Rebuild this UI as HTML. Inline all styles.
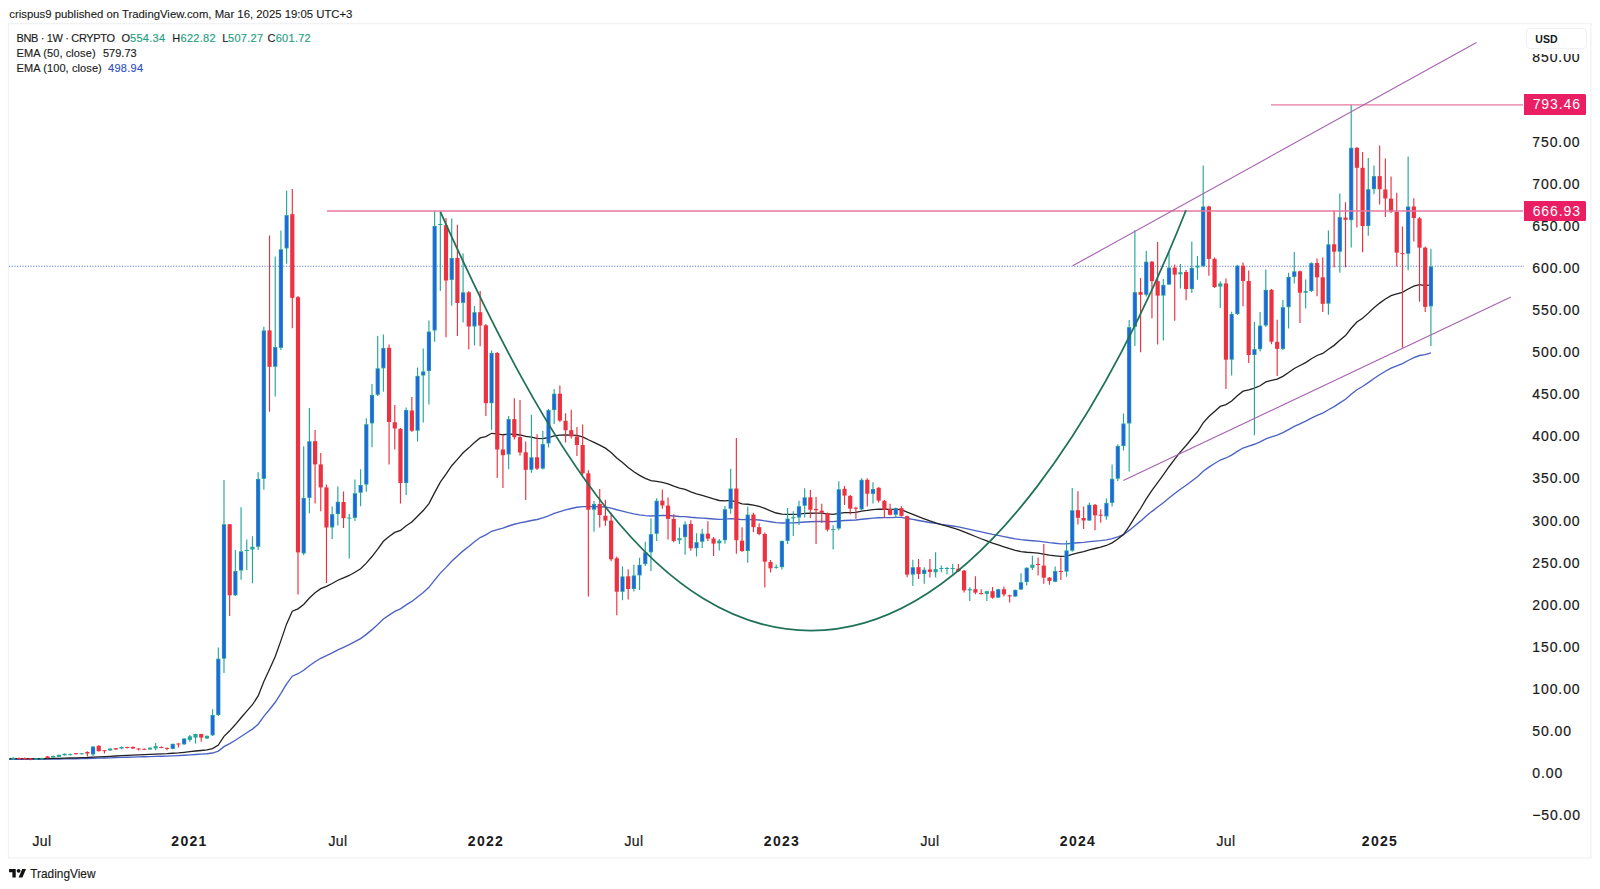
<!DOCTYPE html>
<html><head><meta charset="utf-8"><style>
html,body{margin:0;padding:0;background:#fff;width:1600px;height:889px;overflow:hidden;position:relative;font-family:"Liberation Sans",sans-serif;color:#131722}
.hdr{position:absolute;left:9.3px;top:5.6px;font-size:11.35px;line-height:16px;white-space:nowrap;color:#1a1a1a;-webkit-text-stroke:0.12px #1a1a1a}
.lg{position:absolute;font-size:11px;line-height:14px;white-space:nowrap;color:#1c1c1c;-webkit-text-stroke:0.15px #1c1c1c}
.lg.g{color:#1f9e80;-webkit-text-stroke:0.15px #1f9e80;letter-spacing:0.28px} .lg.bl{color:#3050c0;-webkit-text-stroke:0.15px #3050c0;letter-spacing:0.3px}
.pl{position:absolute;left:1532.3px;font-size:14px;line-height:16px;letter-spacing:0.9px;white-space:nowrap;color:#1a1a1a;-webkit-text-stroke:0.2px #1a1a1a}
.tag{position:absolute;left:1524px;width:62px;height:20.3px;background:#e91e63;color:#fff;font-size:14px;line-height:20.3px;letter-spacing:0.9px;text-align:right;box-sizing:border-box;padding-right:5.1px;border-radius:0 1.5px 1.5px 0}
.usd{position:absolute;left:1525.8px;top:27.5px;width:61.5px;height:21.8px;box-sizing:border-box;border:1px solid #f0f1f4;border-radius:4px;background:#fff;font-size:10.5px;font-weight:700;line-height:20px;padding-left:8.5px;color:#131722}
.tl{position:absolute;top:833.2px;width:80px;text-align:center;font-size:14px;line-height:16px;letter-spacing:0.45px;color:#1a1a1a;-webkit-text-stroke:0.2px #1a1a1a}
.tl.b{font-weight:700;font-size:14px;letter-spacing:1.3px;-webkit-text-stroke:0}
.ft{position:absolute;left:30.3px;top:866.2px;font-size:11.85px;line-height:16px;color:#1a1a1a;-webkit-text-stroke:0.15px #1a1a1a}
</style></head><body>
<div class="hdr">crispus9 published on TradingView.com, Mar 16, 2025 19:05 UTC+3</div>
<svg width="1600" height="889" viewBox="0 0 1600 889" style="position:absolute;left:0;top:0">
<defs><clipPath id="pane"><rect x="9" y="24" width="1515" height="800"/></clipPath></defs>
<rect x="8.5" y="23.6" width="1582.4" height="834.3" fill="#fff" stroke="#f1f2f4" stroke-width="1.3"/>
<g clip-path="url(#pane)">
<path d="M9 266.3H1524" stroke="#5272c8" stroke-width="1.1" stroke-dasharray="1.1 1.59" fill="none"/>
<path d="M7.65 759.27 L13.35 759.25 L19.04 759.24 L24.73 759.24 L30.43 759.24 L36.12 759.23 L41.81 759.21 L47.51 759.18 L53.20 759.12 L58.89 759.03 L64.58 758.93 L70.28 758.84 L75.97 758.74 L81.66 758.63 L87.36 758.53 L93.05 758.29 L98.74 758.15 L104.44 758.01 L110.13 757.82 L115.82 757.66 L121.51 757.44 L127.21 757.25 L132.90 757.07 L138.59 756.92 L144.29 756.78 L149.98 756.60 L155.67 756.39 L161.37 756.22 L167.06 756.08 L172.75 755.84 L178.44 755.61 L184.14 755.27 L189.83 754.90 L195.52 754.48 L201.22 754.15 L206.91 753.78 L212.60 753.02 L218.30 751.15 L223.99 746.66 L229.68 743.66 L235.37 740.24 L241.07 736.50 L246.76 732.80 L252.45 729.12 L258.15 724.17 L263.84 716.37 L269.53 709.45 L275.23 702.27 L280.92 693.30 L286.61 683.83 L292.30 676.19 L298.00 673.74 L303.69 670.26 L309.38 665.72 L315.08 661.73 L320.77 658.28 L326.46 655.69 L332.15 652.89 L337.85 649.89 L343.54 647.29 L349.23 644.72 L354.93 641.72 L360.62 638.61 L366.31 634.37 L372.01 629.63 L377.70 624.45 L383.39 618.98 L389.09 615.08 L394.78 611.38 L400.47 608.84 L406.16 604.90 L411.86 601.45 L417.55 596.99 L423.24 592.52 L428.94 587.35 L434.63 580.20 L440.32 573.14 L446.01 567.35 L451.71 561.22 L457.40 556.11 L463.09 550.89 L468.79 546.44 L474.48 541.80 L480.17 537.52 L485.87 534.86 L491.56 531.26 L497.25 529.64 L502.94 528.17 L508.64 526.01 L514.33 524.25 L520.02 522.83 L525.72 521.78 L531.41 520.50 L537.10 519.47 L542.80 517.98 L548.49 515.84 L554.18 513.42 L559.88 511.58 L565.57 509.97 L571.26 508.52 L576.95 507.26 L582.65 506.59 L588.34 506.65 L594.03 506.59 L599.73 506.76 L605.42 507.04 L611.11 508.07 L616.80 509.73 L622.50 511.05 L628.19 512.59 L633.88 513.84 L639.58 514.84 L645.27 515.59 L650.96 515.95 L656.66 515.65 L662.35 515.45 L668.04 515.52 L673.74 516.02 L679.43 516.46 L685.12 516.61 L690.81 517.24 L696.51 517.74 L702.20 518.05 L707.89 518.46 L713.59 518.96 L719.28 519.38 L724.97 519.18 L730.66 518.58 L736.36 519.00 L742.05 519.64 L747.74 519.54 L753.44 519.69 L759.13 519.97 L764.82 520.80 L770.52 521.74 L776.21 522.63 L781.90 523.00 L787.60 522.91 L793.29 522.80 L798.98 522.47 L804.67 521.97 L810.37 521.73 L816.06 521.50 L821.75 521.32 L827.45 521.49 L833.14 521.64 L838.83 521.00 L844.52 520.49 L850.22 520.26 L855.91 520.02 L861.60 519.23 L867.30 518.72 L872.99 518.13 L878.68 517.78 L884.38 517.63 L890.07 517.57 L895.76 517.38 L901.46 517.35 L907.15 518.49 L912.84 519.45 L918.53 520.53 L924.23 521.51 L929.92 522.50 L935.61 523.43 L941.31 524.31 L947.00 525.17 L952.69 526.02 L958.38 526.92 L964.08 528.18 L969.77 529.38 L975.46 530.64 L981.16 531.89 L986.85 533.06 L992.54 534.34 L998.24 535.43 L1003.93 536.60 L1009.62 537.78 L1015.31 538.81 L1021.01 539.67 L1026.70 540.23 L1032.39 540.71 L1038.09 541.19 L1043.78 541.92 L1049.47 542.69 L1055.17 543.25 L1060.86 543.81 L1066.55 543.94 L1072.24 543.27 L1077.94 542.77 L1083.63 542.33 L1089.32 541.58 L1095.02 541.06 L1100.71 540.56 L1106.40 539.81 L1112.10 538.61 L1117.79 536.77 L1123.48 534.53 L1129.17 530.42 L1134.87 525.70 L1140.56 521.13 L1146.25 515.99 L1151.95 511.34 L1157.64 507.07 L1163.33 502.67 L1169.03 498.01 L1174.72 493.59 L1180.41 489.21 L1186.11 485.24 L1191.80 480.94 L1197.49 476.68 L1203.18 471.33 L1208.88 467.12 L1214.57 463.55 L1220.26 459.99 L1225.96 458.00 L1231.65 455.15 L1237.34 451.40 L1243.03 448.02 L1248.73 446.18 L1254.42 444.26 L1260.11 441.91 L1265.81 438.90 L1271.50 436.97 L1277.19 435.23 L1282.89 432.69 L1288.58 429.61 L1294.27 426.47 L1299.96 423.83 L1305.66 421.20 L1311.35 418.07 L1317.04 415.28 L1322.74 413.07 L1328.43 409.73 L1334.12 406.60 L1339.82 402.85 L1345.51 399.22 L1351.20 394.24 L1356.89 389.76 L1362.59 386.52 L1368.28 382.61 L1373.97 378.52 L1379.67 374.77 L1385.36 371.28 L1391.05 368.12 L1396.75 365.83 L1402.44 363.62 L1408.13 360.51 L1413.82 357.69 L1419.52 355.51 L1425.21 354.55 L1430.90 352.80" stroke="#4a62c4" stroke-width="1.35" fill="none"/>
<path d="M7.65 758.58 L13.35 758.55 L19.04 758.56 L24.73 758.59 L30.43 758.62 L36.12 758.61 L41.81 758.60 L47.51 758.57 L53.20 758.47 L58.89 758.33 L64.58 758.15 L70.28 758.00 L75.97 757.85 L81.66 757.66 L87.36 757.50 L93.05 757.07 L98.74 756.84 L104.44 756.60 L110.13 756.28 L115.82 756.02 L121.51 755.67 L127.21 755.34 L132.90 755.08 L138.59 754.86 L144.29 754.65 L149.98 754.38 L155.67 754.05 L161.37 753.81 L167.06 753.62 L172.75 753.24 L178.44 752.89 L184.14 752.33 L189.83 751.70 L195.52 751.01 L201.22 750.48 L206.91 749.90 L212.60 748.54 L218.30 745.01 L223.99 736.35 L229.68 730.82 L235.37 724.55 L241.07 717.76 L246.76 711.18 L252.45 704.73 L258.15 695.88 L263.84 681.55 L269.53 669.20 L275.23 656.57 L280.92 640.60 L286.61 623.91 L292.30 611.13 L298.00 608.82 L303.69 604.47 L309.38 598.07 L315.08 592.83 L320.77 588.69 L326.46 586.29 L332.15 583.46 L337.85 580.26 L343.54 577.82 L349.23 575.46 L354.93 572.23 L360.62 568.81 L366.31 563.14 L372.01 556.55 L377.70 549.17 L383.39 541.28 L389.09 536.60 L394.78 532.36 L400.47 530.43 L406.16 525.70 L411.86 521.98 L417.55 516.25 L423.24 510.57 L428.94 503.55 L434.63 492.66 L440.32 482.13 L446.01 474.22 L451.71 465.74 L457.40 459.36 L463.09 452.81 L468.79 447.85 L474.48 442.53 L480.17 437.94 L485.87 436.58 L491.56 433.30 L497.25 433.94 L502.94 434.77 L508.64 434.16 L514.33 434.27 L520.02 434.99 L525.72 436.35 L531.41 437.17 L537.10 438.41 L542.80 438.63 L548.49 437.51 L554.18 435.79 L559.88 435.19 L565.57 435.00 L571.26 435.05 L576.95 435.44 L582.65 436.93 L588.34 439.78 L594.03 442.30 L599.73 445.16 L605.42 448.11 L611.11 452.47 L616.80 457.93 L622.50 462.58 L628.19 467.54 L633.88 471.77 L639.58 475.42 L645.27 478.43 L650.96 480.61 L656.66 481.40 L662.35 482.34 L668.04 483.78 L673.74 486.02 L679.43 488.06 L685.12 489.48 L690.81 491.79 L696.51 493.77 L702.20 495.33 L707.89 497.03 L713.59 498.86 L719.28 500.49 L724.97 500.83 L730.66 500.35 L736.36 501.91 L742.05 503.84 L747.74 504.26 L753.44 505.16 L759.13 506.29 L764.82 508.46 L770.52 510.81 L776.21 513.01 L781.90 514.10 L787.60 514.28 L793.29 514.39 L798.98 514.07 L804.67 513.42 L810.37 513.27 L816.06 513.15 L821.75 513.13 L827.45 513.78 L833.14 514.38 L838.83 513.39 L844.52 512.70 L850.22 512.54 L855.91 512.37 L861.60 511.09 L867.30 510.41 L872.99 509.57 L878.68 509.22 L884.38 509.24 L890.07 509.46 L895.76 509.41 L901.46 509.66 L907.15 512.21 L912.84 514.36 L918.53 516.70 L924.23 518.78 L929.92 520.86 L935.61 522.76 L941.31 524.53 L947.00 526.23 L952.69 527.87 L958.38 529.58 L964.08 531.96 L969.77 534.21 L975.46 536.50 L981.16 538.75 L986.85 540.80 L992.54 543.04 L998.24 544.85 L1003.93 546.79 L1009.62 548.73 L1015.31 550.35 L1021.01 551.60 L1026.70 552.23 L1032.39 552.72 L1038.09 553.20 L1043.78 554.16 L1049.47 555.21 L1055.17 555.83 L1060.86 556.45 L1066.55 556.21 L1072.24 554.41 L1077.94 552.97 L1083.63 551.70 L1089.32 549.86 L1095.02 548.50 L1100.71 547.21 L1106.40 545.47 L1112.10 542.86 L1117.79 539.06 L1123.48 534.53 L1129.17 526.39 L1134.87 517.21 L1140.56 508.48 L1146.25 498.81 L1151.95 490.27 L1157.64 482.64 L1163.33 474.88 L1169.03 466.75 L1174.72 459.22 L1180.41 451.88 L1186.11 445.50 L1191.80 438.53 L1197.49 431.76 L1203.18 422.92 L1208.88 416.49 L1214.57 411.41 L1220.26 406.39 L1225.96 404.56 L1231.65 401.01 L1237.34 395.70 L1243.03 391.21 L1248.73 389.79 L1254.42 388.19 L1260.11 385.74 L1265.81 381.97 L1271.50 380.39 L1277.19 379.16 L1282.89 376.34 L1288.58 372.44 L1294.27 368.47 L1299.96 365.50 L1305.66 362.58 L1311.35 358.68 L1317.04 355.49 L1322.74 353.46 L1328.43 349.18 L1334.12 345.36 L1339.82 340.33 L1345.51 335.60 L1351.20 328.24 L1356.89 321.95 L1362.59 318.18 L1368.28 313.13 L1373.97 307.75 L1379.67 303.10 L1385.36 299.00 L1391.05 295.57 L1396.75 293.89 L1402.44 292.33 L1408.13 288.96 L1413.82 286.18 L1419.52 284.67 L1425.21 285.54 L1430.90 284.79" stroke="#222" stroke-width="1.3" fill="none"/>
<path d="M7.65 757.50V760.00 M13.35 757.30V760.00 M36.12 758.00V760.00 M41.81 757.80V759.80 M53.20 755.50V757.80 M58.89 754.50V757.00 M64.58 753.50V755.50 M70.28 753.40V755.50 M81.66 753.00V754.50 M93.05 746.20V756.00 M110.13 748.20V750.80 M121.51 746.60V749.30 M149.98 747.50V749.80 M155.67 743.00V750.20 M172.75 743.50V749.20 M184.14 738.20V744.80 M189.83 735.00V741.70 M195.52 733.80V743.50 M206.91 735.50V739.00 M212.60 709.30V736.00 M218.30 647.60V716.00 M223.99 480.00V672.90 M235.37 550.00V596.00 M241.07 507.30V579.70 M246.76 539.40V569.90 M252.45 536.30V583.30 M258.15 472.30V550.00 M263.84 326.70V489.70 M275.23 256.50V396.50 M280.92 230.40V350.00 M286.61 190.80V263.70 M303.69 446.20V555.30 M309.38 408.10V513.20 M332.15 506.50V539.00 M337.85 486.40V525.60 M349.23 513.80V558.40 M354.93 479.60V521.00 M360.62 469.30V506.20 M366.31 418.20V491.80 M372.01 384.00V447.20 M377.70 335.90V396.00 M383.39 334.60V391.70 M406.16 407.60V495.00 M417.55 367.60V441.40 M423.24 348.50V422.50 M428.94 320.40V404.40 M434.63 210.80V341.70 M440.32 211.20V291.10 M451.71 218.40V305.70 M463.09 253.50V322.60 M474.48 306.00V345.60 M491.56 350.50V429.70 M508.64 416.10V469.30 M531.41 414.80V472.70 M542.80 430.90V469.50 M548.49 409.00V447.40 M554.18 388.90V424.00 M594.03 501.00V531.70 M622.50 566.50V600.30 M633.88 564.80V591.50 M639.58 557.70V590.10 M645.27 541.70V566.00 M650.96 518.60V570.90 M656.66 498.30V540.90 M679.43 527.40V544.00 M685.12 521.60V554.80 M696.51 533.20V556.40 M702.20 528.70V548.00 M719.28 539.00V550.50 M724.97 506.00V543.80 M730.66 468.70V513.70 M747.74 506.50V562.80 M776.21 564.50V568.80 M781.90 540.50V569.60 M787.60 508.10V544.00 M793.29 511.20V535.90 M798.98 500.80V525.10 M804.67 488.20V517.50 M833.14 525.20V549.40 M838.83 481.30V530.20 M861.60 478.30V510.00 M872.99 482.20V503.60 M895.76 507.50V517.90 M912.84 559.80V586.10 M924.23 567.20V583.70 M935.61 552.20V577.60 M941.31 565.40V572.30 M947.00 567.00V574.50 M952.69 564.00V573.70 M969.77 587.20V601.00 M986.85 590.80V601.00 M998.24 588.80V598.00 M1015.31 589.50V597.00 M1021.01 573.20V590.00 M1026.70 567.20V585.40 M1032.39 555.70V570.00 M1055.17 566.50V582.20 M1066.55 540.60V576.80 M1072.24 488.10V551.80 M1089.32 502.50V521.00 M1106.40 498.50V519.70 M1112.10 464.40V506.60 M1117.79 444.30V481.00 M1123.48 413.40V450.50 M1129.17 320.00V471.60 M1134.87 230.20V346.00 M1146.25 250.70V296.40 M1163.33 279.10V340.50 M1169.03 252.30V285.00 M1180.41 263.90V288.50 M1191.80 241.60V293.10 M1197.49 256.10V279.70 M1203.18 165.50V267.00 M1220.26 281.20V308.00 M1231.65 311.70V375.50 M1237.34 264.80V315.00 M1254.42 321.90V435.30 M1260.11 312.00V351.40 M1265.81 269.50V327.00 M1282.89 300.10V350.00 M1288.58 272.80V328.40 M1294.27 252.00V283.50 M1305.66 279.60V308.40 M1311.35 262.30V292.00 M1328.43 230.60V314.70 M1339.82 193.50V272.70 M1351.20 104.80V247.50 M1368.28 158.00V235.70 M1373.97 165.60V194.20 M1408.13 156.50V270.30 M1430.90 248.70V346.00" stroke="#26A69A" stroke-width="1.15" fill="none"/>
<path d="M19.04 757.50V760.00 M24.73 757.50V760.00 M30.43 758.00V760.30 M47.51 756.00V758.50 M75.97 753.00V754.50 M87.36 751.20V756.50 M98.74 745.20V751.50 M104.44 750.00V753.50 M115.82 748.00V750.00 M127.21 746.80V748.50 M132.90 746.20V749.00 M138.59 748.30V750.60 M144.29 748.50V750.00 M161.37 746.50V748.20 M167.06 747.50V750.20 M178.44 743.20V747.50 M201.22 733.80V741.70 M229.68 523.90V616.00 M269.53 235.40V411.80 M292.30 189.00V328.30 M298.00 296.00V594.50 M315.08 429.90V503.60 M320.77 453.00V511.30 M326.46 484.50V583.00 M343.54 491.50V528.00 M389.09 344.40V464.40 M394.78 405.10V449.40 M400.47 428.00V503.60 M411.86 397.00V432.00 M446.01 218.00V337.20 M457.40 224.70V336.10 M468.79 291.00V349.50 M480.17 291.10V346.30 M485.87 324.00V416.10 M497.25 352.00V478.00 M502.94 434.70V487.90 M514.33 398.30V439.60 M520.02 400.10V455.40 M525.72 441.50V500.00 M537.10 434.20V470.00 M559.88 385.50V422.00 M565.57 413.30V442.60 M571.26 409.80V438.60 M576.95 427.00V456.10 M582.65 424.60V475.00 M588.34 470.20V596.60 M599.73 489.10V527.60 M605.42 499.80V525.80 M611.11 512.80V561.20 M616.80 556.50V615.30 M628.19 569.20V599.60 M662.35 489.40V508.80 M668.04 497.50V539.40 M673.74 514.30V542.20 M690.81 520.20V550.70 M707.89 521.30V540.90 M713.59 537.00V556.10 M736.36 438.10V553.80 M742.05 527.20V552.00 M753.44 512.80V532.20 M759.13 523.20V535.30 M764.82 532.60V587.50 M770.52 560.00V572.40 M810.37 490.00V517.90 M816.06 497.00V544.00 M821.75 503.70V523.10 M827.45 512.50V531.40 M844.52 486.10V504.90 M850.22 495.00V514.50 M855.91 506.80V518.80 M867.30 478.30V506.40 M878.68 487.00V502.50 M884.38 500.00V517.90 M890.07 503.70V515.50 M901.46 506.20V516.50 M907.15 515.50V577.30 M918.53 559.10V579.10 M929.92 558.90V577.60 M958.38 564.00V572.00 M964.08 570.00V592.40 M975.46 576.20V594.30 M981.16 589.20V594.50 M992.54 586.90V598.70 M1003.93 586.50V596.60 M1009.62 594.80V602.50 M1038.09 557.50V575.50 M1043.78 544.00V583.80 M1049.47 577.00V584.70 M1060.86 557.50V580.00 M1077.94 491.30V524.50 M1083.63 506.60V529.10 M1095.02 504.00V530.20 M1100.71 509.30V522.80 M1140.56 278.00V352.30 M1151.95 261.00V318.40 M1157.64 242.00V344.40 M1174.72 264.50V320.70 M1186.11 270.00V300.20 M1208.88 205.70V275.70 M1214.57 257.60V288.00 M1225.96 278.50V388.90 M1243.03 262.60V306.20 M1248.73 270.40V363.00 M1271.50 289.00V344.20 M1277.19 319.80V376.00 M1299.96 270.50V322.90 M1317.04 258.40V296.20 M1322.74 257.40V312.00 M1334.12 210.80V267.50 M1345.51 202.20V267.20 M1356.89 147.00V227.40 M1362.59 152.00V252.20 M1379.67 145.40V204.40 M1385.36 158.50V217.10 M1391.05 176.60V213.10 M1396.75 192.80V266.50 M1402.44 226.60V347.80 M1413.82 198.30V241.50 M1419.52 217.00V301.70 M1425.21 246.50V311.90" stroke="#EB3241" stroke-width="1.15" fill="none"/>
<rect x="5.55" y="758.00" width="4.2" height="1.50" fill="#26A69A"/><rect x="11.25" y="757.80" width="4.2" height="1.70" fill="#26A69A"/><rect x="16.94" y="758.00" width="4.2" height="1.00" fill="#EB3241"/><rect x="22.63" y="758.00" width="4.2" height="1.20" fill="#EB3241"/><rect x="28.33" y="758.30" width="4.2" height="1.20" fill="#EB3241"/><rect x="34.02" y="758.30" width="4.2" height="1.20" fill="#26A69A"/><rect x="39.71" y="758.20" width="4.2" height="1.10" fill="#26A69A"/><rect x="45.41" y="756.40" width="4.2" height="1.50" fill="#EB3241"/><rect x="51.10" y="756.00" width="4.2" height="1.50" fill="#26A69A"/><rect x="56.79" y="754.90" width="4.2" height="1.90" fill="#26A69A"/><rect x="62.48" y="753.80" width="4.2" height="1.50" fill="#26A69A"/><rect x="68.18" y="754.20" width="4.2" height="1.00" fill="#26A69A"/><rect x="73.87" y="753.20" width="4.2" height="1.00" fill="#EB3241"/><rect x="79.56" y="753.20" width="4.2" height="1.00" fill="#26A69A"/><rect x="85.26" y="752.00" width="4.2" height="1.50" fill="#EB3241"/><rect x="90.95" y="746.50" width="4.2" height="8.00" fill="#26A69A"/><rect x="91.65" y="747.30" width="2.80" height="6.40" fill="#2264E4"/><rect x="96.64" y="745.80" width="4.2" height="5.40" fill="#EB3241"/><rect x="102.34" y="750.20" width="4.2" height="1.00" fill="#EB3241"/><rect x="108.03" y="748.50" width="4.2" height="2.00" fill="#26A69A"/><rect x="113.72" y="748.20" width="4.2" height="1.30" fill="#EB3241"/><rect x="119.41" y="747.00" width="4.2" height="1.50" fill="#26A69A"/><rect x="125.11" y="747.00" width="4.2" height="1.00" fill="#EB3241"/><rect x="130.80" y="747.00" width="4.2" height="1.50" fill="#EB3241"/><rect x="136.49" y="748.50" width="4.2" height="1.00" fill="#EB3241"/><rect x="142.19" y="748.80" width="4.2" height="1.00" fill="#EB3241"/><rect x="147.88" y="747.70" width="4.2" height="1.80" fill="#26A69A"/><rect x="153.57" y="746.20" width="4.2" height="2.20" fill="#26A69A"/><rect x="159.27" y="747.00" width="4.2" height="1.00" fill="#EB3241"/><rect x="164.96" y="747.90" width="4.2" height="1.00" fill="#EB3241"/><rect x="170.65" y="743.90" width="4.2" height="5.00" fill="#26A69A"/><rect x="171.35" y="744.70" width="2.80" height="3.40" fill="#2264E4"/><rect x="176.34" y="743.50" width="4.2" height="1.00" fill="#EB3241"/><rect x="182.04" y="738.50" width="4.2" height="5.90" fill="#26A69A"/><rect x="182.74" y="739.30" width="2.80" height="4.30" fill="#2264E4"/><rect x="187.73" y="736.30" width="4.2" height="3.60" fill="#26A69A"/><rect x="193.42" y="734.00" width="4.2" height="3.60" fill="#26A69A"/><rect x="199.12" y="734.00" width="4.2" height="3.60" fill="#EB3241"/><rect x="204.81" y="735.80" width="4.2" height="2.70" fill="#26A69A"/><rect x="210.50" y="715.00" width="4.2" height="20.30" fill="#26A69A"/><rect x="211.20" y="715.80" width="2.80" height="18.70" fill="#2264E4"/><rect x="216.20" y="658.70" width="4.2" height="56.30" fill="#26A69A"/><rect x="216.90" y="659.50" width="2.80" height="54.70" fill="#2264E4"/><rect x="221.89" y="524.20" width="4.2" height="134.50" fill="#26A69A"/><rect x="222.59" y="525.00" width="2.80" height="132.90" fill="#2264E4"/><rect x="227.58" y="524.20" width="4.2" height="71.10" fill="#EB3241"/><rect x="233.27" y="571.00" width="4.2" height="24.30" fill="#26A69A"/><rect x="233.97" y="571.80" width="2.80" height="22.70" fill="#2264E4"/><rect x="238.97" y="551.30" width="4.2" height="19.30" fill="#26A69A"/><rect x="239.67" y="552.10" width="2.80" height="17.70" fill="#2264E4"/><rect x="244.66" y="550.00" width="4.2" height="1.00" fill="#26A69A"/><rect x="250.35" y="546.80" width="4.2" height="2.70" fill="#26A69A"/><rect x="256.05" y="478.90" width="4.2" height="67.90" fill="#26A69A"/><rect x="256.75" y="479.70" width="2.80" height="66.30" fill="#2264E4"/><rect x="261.74" y="330.40" width="4.2" height="148.50" fill="#26A69A"/><rect x="262.44" y="331.20" width="2.80" height="146.90" fill="#2264E4"/><rect x="267.43" y="330.40" width="4.2" height="36.40" fill="#EB3241"/><rect x="273.12" y="347.00" width="4.2" height="19.80" fill="#26A69A"/><rect x="273.82" y="347.80" width="2.80" height="18.20" fill="#2264E4"/><rect x="278.82" y="249.30" width="4.2" height="98.60" fill="#26A69A"/><rect x="279.52" y="250.10" width="2.80" height="97.00" fill="#2264E4"/><rect x="284.51" y="215.10" width="4.2" height="33.30" fill="#26A69A"/><rect x="285.21" y="215.90" width="2.80" height="31.70" fill="#2264E4"/><rect x="290.20" y="214.20" width="4.2" height="83.70" fill="#EB3241"/><rect x="295.90" y="297.20" width="4.2" height="255.20" fill="#EB3241"/><rect x="301.59" y="497.90" width="4.2" height="55.50" fill="#26A69A"/><rect x="302.29" y="498.70" width="2.80" height="53.90" fill="#2264E4"/><rect x="307.28" y="441.20" width="4.2" height="56.70" fill="#26A69A"/><rect x="307.98" y="442.00" width="2.80" height="55.10" fill="#2264E4"/><rect x="312.98" y="441.20" width="4.2" height="23.20" fill="#EB3241"/><rect x="318.67" y="464.40" width="4.2" height="23.00" fill="#EB3241"/><rect x="324.36" y="487.40" width="4.2" height="40.10" fill="#EB3241"/><rect x="330.05" y="514.10" width="4.2" height="13.40" fill="#26A69A"/><rect x="330.75" y="514.90" width="2.80" height="11.80" fill="#2264E4"/><rect x="335.75" y="501.70" width="4.2" height="12.40" fill="#26A69A"/><rect x="336.45" y="502.50" width="2.80" height="10.80" fill="#2264E4"/><rect x="341.44" y="502.00" width="4.2" height="16.20" fill="#EB3241"/><rect x="347.13" y="517.60" width="4.2" height="1.00" fill="#26A69A"/><rect x="352.83" y="493.20" width="4.2" height="24.70" fill="#26A69A"/><rect x="353.53" y="494.00" width="2.80" height="23.10" fill="#2264E4"/><rect x="358.52" y="485.00" width="4.2" height="7.70" fill="#26A69A"/><rect x="359.22" y="485.80" width="2.80" height="6.10" fill="#2264E4"/><rect x="364.21" y="424.20" width="4.2" height="60.40" fill="#26A69A"/><rect x="364.91" y="425.00" width="2.80" height="58.80" fill="#2264E4"/><rect x="369.91" y="395.00" width="4.2" height="28.40" fill="#26A69A"/><rect x="370.61" y="395.80" width="2.80" height="26.80" fill="#2264E4"/><rect x="375.60" y="368.30" width="4.2" height="26.50" fill="#26A69A"/><rect x="376.30" y="369.10" width="2.80" height="24.90" fill="#2264E4"/><rect x="381.29" y="348.00" width="4.2" height="20.30" fill="#26A69A"/><rect x="381.99" y="348.80" width="2.80" height="18.70" fill="#2264E4"/><rect x="386.99" y="347.80" width="4.2" height="74.20" fill="#EB3241"/><rect x="392.68" y="422.20" width="4.2" height="6.30" fill="#EB3241"/><rect x="398.37" y="428.80" width="4.2" height="54.20" fill="#EB3241"/><rect x="404.06" y="410.00" width="4.2" height="73.10" fill="#26A69A"/><rect x="404.76" y="410.80" width="2.80" height="71.50" fill="#2264E4"/><rect x="409.76" y="410.50" width="4.2" height="20.20" fill="#EB3241"/><rect x="415.45" y="375.90" width="4.2" height="54.80" fill="#26A69A"/><rect x="416.15" y="376.70" width="2.80" height="53.20" fill="#2264E4"/><rect x="421.14" y="371.40" width="4.2" height="4.10" fill="#26A69A"/><rect x="421.84" y="372.20" width="2.80" height="2.50" fill="#2264E4"/><rect x="426.84" y="331.60" width="4.2" height="39.40" fill="#26A69A"/><rect x="427.54" y="332.40" width="2.80" height="37.80" fill="#2264E4"/><rect x="432.53" y="225.90" width="4.2" height="104.60" fill="#26A69A"/><rect x="433.23" y="226.70" width="2.80" height="103.00" fill="#2264E4"/><rect x="438.22" y="224.00" width="4.2" height="1.00" fill="#26A69A"/><rect x="443.91" y="225.20" width="4.2" height="55.30" fill="#EB3241"/><rect x="449.61" y="258.00" width="4.2" height="21.90" fill="#26A69A"/><rect x="450.31" y="258.80" width="2.80" height="20.30" fill="#2264E4"/><rect x="455.30" y="258.00" width="4.2" height="45.00" fill="#EB3241"/><rect x="460.99" y="292.30" width="4.2" height="10.60" fill="#26A69A"/><rect x="461.69" y="293.10" width="2.80" height="9.00" fill="#2264E4"/><rect x="466.69" y="292.30" width="4.2" height="34.20" fill="#EB3241"/><rect x="472.38" y="312.20" width="4.2" height="14.30" fill="#26A69A"/><rect x="473.08" y="313.00" width="2.80" height="12.70" fill="#2264E4"/><rect x="478.07" y="312.20" width="4.2" height="13.30" fill="#EB3241"/><rect x="483.77" y="325.30" width="4.2" height="77.90" fill="#EB3241"/><rect x="489.46" y="353.00" width="4.2" height="50.20" fill="#26A69A"/><rect x="490.16" y="353.80" width="2.80" height="48.60" fill="#2264E4"/><rect x="495.15" y="353.00" width="4.2" height="96.50" fill="#EB3241"/><rect x="500.84" y="449.50" width="4.2" height="5.70" fill="#EB3241"/><rect x="506.54" y="419.10" width="4.2" height="35.40" fill="#26A69A"/><rect x="507.24" y="419.90" width="2.80" height="33.80" fill="#2264E4"/><rect x="512.23" y="419.10" width="4.2" height="18.00" fill="#EB3241"/><rect x="517.92" y="437.10" width="4.2" height="15.40" fill="#EB3241"/><rect x="523.62" y="452.30" width="4.2" height="17.50" fill="#EB3241"/><rect x="529.31" y="457.30" width="4.2" height="12.50" fill="#26A69A"/><rect x="530.01" y="458.10" width="2.80" height="10.90" fill="#2264E4"/><rect x="535.00" y="457.30" width="4.2" height="11.30" fill="#EB3241"/><rect x="540.70" y="444.00" width="4.2" height="24.60" fill="#26A69A"/><rect x="541.40" y="444.80" width="2.80" height="23.00" fill="#2264E4"/><rect x="546.39" y="410.10" width="4.2" height="33.30" fill="#26A69A"/><rect x="547.09" y="410.90" width="2.80" height="31.70" fill="#2264E4"/><rect x="552.08" y="393.70" width="4.2" height="16.40" fill="#26A69A"/><rect x="552.78" y="394.50" width="2.80" height="14.80" fill="#2264E4"/><rect x="557.77" y="393.70" width="4.2" height="26.90" fill="#EB3241"/><rect x="563.47" y="420.80" width="4.2" height="9.40" fill="#EB3241"/><rect x="569.16" y="430.20" width="4.2" height="6.20" fill="#EB3241"/><rect x="574.85" y="436.50" width="4.2" height="8.50" fill="#EB3241"/><rect x="580.55" y="445.00" width="4.2" height="28.30" fill="#EB3241"/><rect x="586.24" y="473.30" width="4.2" height="36.40" fill="#EB3241"/><rect x="591.93" y="504.00" width="4.2" height="5.70" fill="#26A69A"/><rect x="592.63" y="504.80" width="2.80" height="4.10" fill="#2264E4"/><rect x="597.63" y="504.00" width="4.2" height="11.10" fill="#EB3241"/><rect x="603.32" y="515.80" width="4.2" height="4.80" fill="#EB3241"/><rect x="609.01" y="520.60" width="4.2" height="38.70" fill="#EB3241"/><rect x="614.70" y="558.30" width="4.2" height="33.40" fill="#EB3241"/><rect x="620.40" y="576.40" width="4.2" height="15.40" fill="#26A69A"/><rect x="621.10" y="577.20" width="2.80" height="13.80" fill="#2264E4"/><rect x="626.09" y="576.30" width="4.2" height="12.70" fill="#EB3241"/><rect x="631.78" y="575.40" width="4.2" height="13.60" fill="#26A69A"/><rect x="632.48" y="576.20" width="2.80" height="12.00" fill="#2264E4"/><rect x="637.48" y="564.80" width="4.2" height="10.60" fill="#26A69A"/><rect x="638.18" y="565.60" width="2.80" height="9.00" fill="#2264E4"/><rect x="643.17" y="552.30" width="4.2" height="11.80" fill="#26A69A"/><rect x="643.87" y="553.10" width="2.80" height="10.20" fill="#2264E4"/><rect x="648.86" y="534.10" width="4.2" height="18.20" fill="#26A69A"/><rect x="649.56" y="534.90" width="2.80" height="16.60" fill="#2264E4"/><rect x="654.56" y="500.70" width="4.2" height="33.10" fill="#26A69A"/><rect x="655.26" y="501.50" width="2.80" height="31.50" fill="#2264E4"/><rect x="660.25" y="500.70" width="4.2" height="4.70" fill="#EB3241"/><rect x="665.94" y="505.60" width="4.2" height="13.30" fill="#EB3241"/><rect x="671.63" y="518.90" width="4.2" height="22.00" fill="#EB3241"/><rect x="677.33" y="538.20" width="4.2" height="2.00" fill="#26A69A"/><rect x="683.02" y="524.30" width="4.2" height="12.90" fill="#26A69A"/><rect x="683.72" y="525.10" width="2.80" height="11.30" fill="#2264E4"/><rect x="688.71" y="524.00" width="4.2" height="24.30" fill="#EB3241"/><rect x="694.41" y="542.20" width="4.2" height="6.10" fill="#26A69A"/><rect x="695.11" y="543.00" width="2.80" height="4.50" fill="#2264E4"/><rect x="700.10" y="533.70" width="4.2" height="8.10" fill="#26A69A"/><rect x="700.80" y="534.50" width="2.80" height="6.50" fill="#2264E4"/><rect x="705.79" y="533.70" width="4.2" height="4.90" fill="#EB3241"/><rect x="711.49" y="538.60" width="4.2" height="5.00" fill="#EB3241"/><rect x="717.18" y="540.60" width="4.2" height="2.70" fill="#26A69A"/><rect x="722.87" y="509.20" width="4.2" height="31.00" fill="#26A69A"/><rect x="723.57" y="510.00" width="2.80" height="29.40" fill="#2264E4"/><rect x="728.56" y="488.50" width="4.2" height="20.30" fill="#26A69A"/><rect x="729.26" y="489.30" width="2.80" height="18.70" fill="#2264E4"/><rect x="734.26" y="488.50" width="4.2" height="51.70" fill="#EB3241"/><rect x="739.95" y="540.70" width="4.2" height="10.30" fill="#EB3241"/><rect x="745.64" y="514.60" width="4.2" height="36.40" fill="#26A69A"/><rect x="746.34" y="515.40" width="2.80" height="34.80" fill="#2264E4"/><rect x="751.34" y="514.60" width="4.2" height="12.60" fill="#EB3241"/><rect x="757.03" y="527.20" width="4.2" height="6.80" fill="#EB3241"/><rect x="762.72" y="534.00" width="4.2" height="27.70" fill="#EB3241"/><rect x="768.42" y="562.00" width="4.2" height="6.30" fill="#EB3241"/><rect x="774.11" y="566.90" width="4.2" height="1.00" fill="#26A69A"/><rect x="779.80" y="540.90" width="4.2" height="26.30" fill="#26A69A"/><rect x="780.50" y="541.70" width="2.80" height="24.70" fill="#2264E4"/><rect x="785.50" y="518.60" width="4.2" height="22.30" fill="#26A69A"/><rect x="786.20" y="519.40" width="2.80" height="20.70" fill="#2264E4"/><rect x="791.19" y="517.20" width="4.2" height="1.10" fill="#26A69A"/><rect x="796.88" y="506.20" width="4.2" height="11.30" fill="#26A69A"/><rect x="797.58" y="507.00" width="2.80" height="9.70" fill="#2264E4"/><rect x="802.57" y="497.30" width="4.2" height="8.50" fill="#26A69A"/><rect x="803.27" y="498.10" width="2.80" height="6.90" fill="#2264E4"/><rect x="808.27" y="497.30" width="4.2" height="12.50" fill="#EB3241"/><rect x="813.96" y="508.90" width="4.2" height="1.30" fill="#EB3241"/><rect x="819.65" y="510.60" width="4.2" height="2.00" fill="#EB3241"/><rect x="825.35" y="513.30" width="4.2" height="16.40" fill="#EB3241"/><rect x="831.04" y="529.10" width="4.2" height="1.00" fill="#26A69A"/><rect x="836.73" y="489.20" width="4.2" height="39.40" fill="#26A69A"/><rect x="837.43" y="490.00" width="2.80" height="37.80" fill="#2264E4"/><rect x="842.42" y="488.80" width="4.2" height="6.80" fill="#EB3241"/><rect x="848.12" y="495.90" width="4.2" height="12.70" fill="#EB3241"/><rect x="853.81" y="507.70" width="4.2" height="1.00" fill="#EB3241"/><rect x="859.50" y="479.80" width="4.2" height="29.60" fill="#26A69A"/><rect x="860.20" y="480.60" width="2.80" height="28.00" fill="#2264E4"/><rect x="865.20" y="479.80" width="4.2" height="13.90" fill="#EB3241"/><rect x="870.89" y="489.00" width="4.2" height="4.90" fill="#26A69A"/><rect x="871.59" y="489.80" width="2.80" height="3.30" fill="#2264E4"/><rect x="876.58" y="487.80" width="4.2" height="12.80" fill="#EB3241"/><rect x="882.28" y="500.80" width="4.2" height="9.00" fill="#EB3241"/><rect x="887.97" y="509.10" width="4.2" height="5.70" fill="#EB3241"/><rect x="893.66" y="508.10" width="4.2" height="6.70" fill="#26A69A"/><rect x="894.36" y="508.90" width="2.80" height="5.10" fill="#2264E4"/><rect x="899.36" y="508.10" width="4.2" height="7.80" fill="#EB3241"/><rect x="905.05" y="516.20" width="4.2" height="58.40" fill="#EB3241"/><rect x="910.74" y="567.20" width="4.2" height="7.40" fill="#26A69A"/><rect x="911.44" y="568.00" width="2.80" height="5.80" fill="#2264E4"/><rect x="916.43" y="567.20" width="4.2" height="6.80" fill="#EB3241"/><rect x="922.13" y="569.70" width="4.2" height="4.30" fill="#26A69A"/><rect x="922.83" y="570.50" width="2.80" height="2.70" fill="#2264E4"/><rect x="927.82" y="569.50" width="4.2" height="2.40" fill="#EB3241"/><rect x="933.51" y="569.10" width="4.2" height="3.20" fill="#26A69A"/><rect x="939.21" y="568.00" width="4.2" height="1.00" fill="#26A69A"/><rect x="944.90" y="568.00" width="4.2" height="1.00" fill="#26A69A"/><rect x="950.59" y="568.00" width="4.2" height="1.00" fill="#26A69A"/><rect x="956.28" y="568.70" width="4.2" height="2.60" fill="#EB3241"/><rect x="961.98" y="570.70" width="4.2" height="19.70" fill="#EB3241"/><rect x="967.67" y="589.20" width="4.2" height="1.20" fill="#26A69A"/><rect x="973.36" y="589.20" width="4.2" height="3.40" fill="#EB3241"/><rect x="979.06" y="593.10" width="4.2" height="1.00" fill="#EB3241"/><rect x="984.75" y="591.20" width="4.2" height="2.70" fill="#26A69A"/><rect x="990.44" y="591.20" width="4.2" height="6.50" fill="#EB3241"/><rect x="996.14" y="589.20" width="4.2" height="8.50" fill="#26A69A"/><rect x="996.84" y="590.00" width="2.80" height="6.90" fill="#2264E4"/><rect x="1001.83" y="589.20" width="4.2" height="5.20" fill="#EB3241"/><rect x="1007.52" y="595.30" width="4.2" height="1.10" fill="#EB3241"/><rect x="1013.21" y="589.90" width="4.2" height="6.70" fill="#26A69A"/><rect x="1013.91" y="590.70" width="2.80" height="5.10" fill="#2264E4"/><rect x="1018.91" y="582.20" width="4.2" height="7.40" fill="#26A69A"/><rect x="1019.61" y="583.00" width="2.80" height="5.80" fill="#2264E4"/><rect x="1024.60" y="567.80" width="4.2" height="14.20" fill="#26A69A"/><rect x="1025.30" y="568.60" width="2.80" height="12.60" fill="#2264E4"/><rect x="1030.29" y="564.70" width="4.2" height="3.10" fill="#26A69A"/><rect x="1035.99" y="564.00" width="4.2" height="1.00" fill="#EB3241"/><rect x="1041.68" y="565.60" width="4.2" height="12.10" fill="#EB3241"/><rect x="1047.37" y="577.70" width="4.2" height="3.20" fill="#EB3241"/><rect x="1053.07" y="571.00" width="4.2" height="10.80" fill="#26A69A"/><rect x="1053.77" y="571.80" width="2.80" height="9.20" fill="#2264E4"/><rect x="1058.76" y="571.00" width="4.2" height="1.00" fill="#EB3241"/><rect x="1064.45" y="550.40" width="4.2" height="21.20" fill="#26A69A"/><rect x="1065.15" y="551.20" width="2.80" height="19.60" fill="#2264E4"/><rect x="1070.14" y="510.20" width="4.2" height="40.50" fill="#26A69A"/><rect x="1070.85" y="511.00" width="2.80" height="38.90" fill="#2264E4"/><rect x="1075.84" y="510.20" width="4.2" height="7.60" fill="#EB3241"/><rect x="1081.53" y="518.00" width="4.2" height="2.50" fill="#EB3241"/><rect x="1087.22" y="504.80" width="4.2" height="15.70" fill="#26A69A"/><rect x="1087.92" y="505.60" width="2.80" height="14.10" fill="#2264E4"/><rect x="1092.92" y="504.80" width="4.2" height="10.50" fill="#EB3241"/><rect x="1098.61" y="514.70" width="4.2" height="1.00" fill="#EB3241"/><rect x="1104.30" y="502.90" width="4.2" height="13.50" fill="#26A69A"/><rect x="1105.00" y="503.70" width="2.80" height="11.90" fill="#2264E4"/><rect x="1110.00" y="478.80" width="4.2" height="24.10" fill="#26A69A"/><rect x="1110.70" y="479.60" width="2.80" height="22.50" fill="#2264E4"/><rect x="1115.69" y="446.00" width="4.2" height="32.70" fill="#26A69A"/><rect x="1116.39" y="446.80" width="2.80" height="31.10" fill="#2264E4"/><rect x="1121.38" y="423.50" width="4.2" height="22.50" fill="#26A69A"/><rect x="1122.08" y="424.30" width="2.80" height="20.90" fill="#2264E4"/><rect x="1127.08" y="327.10" width="4.2" height="96.40" fill="#26A69A"/><rect x="1127.78" y="327.90" width="2.80" height="94.80" fill="#2264E4"/><rect x="1132.77" y="292.10" width="4.2" height="34.70" fill="#26A69A"/><rect x="1133.47" y="292.90" width="2.80" height="33.10" fill="#2264E4"/><rect x="1138.46" y="292.10" width="4.2" height="2.70" fill="#EB3241"/><rect x="1144.15" y="261.70" width="4.2" height="33.10" fill="#26A69A"/><rect x="1144.85" y="262.50" width="2.80" height="31.50" fill="#2264E4"/><rect x="1149.85" y="261.70" width="4.2" height="19.40" fill="#EB3241"/><rect x="1155.54" y="281.10" width="4.2" height="14.50" fill="#EB3241"/><rect x="1161.23" y="284.90" width="4.2" height="10.70" fill="#26A69A"/><rect x="1161.93" y="285.70" width="2.80" height="9.10" fill="#2264E4"/><rect x="1166.93" y="267.60" width="4.2" height="17.00" fill="#26A69A"/><rect x="1167.63" y="268.40" width="2.80" height="15.40" fill="#2264E4"/><rect x="1172.62" y="267.60" width="4.2" height="7.00" fill="#EB3241"/><rect x="1178.31" y="272.20" width="4.2" height="2.10" fill="#26A69A"/><rect x="1184.01" y="272.00" width="4.2" height="17.10" fill="#EB3241"/><rect x="1189.70" y="267.90" width="4.2" height="21.20" fill="#26A69A"/><rect x="1190.40" y="268.70" width="2.80" height="19.60" fill="#2264E4"/><rect x="1195.39" y="265.70" width="4.2" height="1.80" fill="#26A69A"/><rect x="1201.08" y="206.50" width="4.2" height="59.70" fill="#26A69A"/><rect x="1201.78" y="207.30" width="2.80" height="58.10" fill="#2264E4"/><rect x="1206.78" y="206.50" width="4.2" height="52.40" fill="#EB3241"/><rect x="1212.47" y="258.90" width="4.2" height="28.10" fill="#EB3241"/><rect x="1218.16" y="283.40" width="4.2" height="3.20" fill="#26A69A"/><rect x="1223.86" y="283.40" width="4.2" height="76.30" fill="#EB3241"/><rect x="1229.55" y="314.00" width="4.2" height="45.70" fill="#26A69A"/><rect x="1230.25" y="314.80" width="2.80" height="44.10" fill="#2264E4"/><rect x="1235.24" y="265.70" width="4.2" height="48.30" fill="#26A69A"/><rect x="1235.94" y="266.50" width="2.80" height="46.70" fill="#2264E4"/><rect x="1240.93" y="265.70" width="4.2" height="15.30" fill="#EB3241"/><rect x="1246.63" y="281.00" width="4.2" height="74.00" fill="#EB3241"/><rect x="1252.32" y="349.10" width="4.2" height="5.90" fill="#26A69A"/><rect x="1253.02" y="349.90" width="2.80" height="4.30" fill="#2264E4"/><rect x="1258.01" y="325.60" width="4.2" height="23.60" fill="#26A69A"/><rect x="1258.71" y="326.40" width="2.80" height="22.00" fill="#2264E4"/><rect x="1263.71" y="289.80" width="4.2" height="35.70" fill="#26A69A"/><rect x="1264.41" y="290.60" width="2.80" height="34.10" fill="#2264E4"/><rect x="1269.40" y="289.80" width="4.2" height="51.90" fill="#EB3241"/><rect x="1275.09" y="341.80" width="4.2" height="7.10" fill="#EB3241"/><rect x="1280.79" y="307.20" width="4.2" height="41.70" fill="#26A69A"/><rect x="1281.49" y="308.00" width="2.80" height="40.10" fill="#2264E4"/><rect x="1286.48" y="276.90" width="4.2" height="30.30" fill="#26A69A"/><rect x="1287.18" y="277.70" width="2.80" height="28.70" fill="#2264E4"/><rect x="1292.17" y="271.30" width="4.2" height="5.60" fill="#26A69A"/><rect x="1292.87" y="272.10" width="2.80" height="4.00" fill="#2264E4"/><rect x="1297.87" y="271.30" width="4.2" height="21.40" fill="#EB3241"/><rect x="1303.56" y="291.10" width="4.2" height="1.60" fill="#26A69A"/><rect x="1309.25" y="263.10" width="4.2" height="27.90" fill="#26A69A"/><rect x="1309.95" y="263.90" width="2.80" height="26.30" fill="#2264E4"/><rect x="1314.94" y="263.00" width="4.2" height="14.30" fill="#EB3241"/><rect x="1320.64" y="277.30" width="4.2" height="26.50" fill="#EB3241"/><rect x="1326.33" y="244.30" width="4.2" height="59.40" fill="#26A69A"/><rect x="1327.03" y="245.10" width="2.80" height="57.80" fill="#2264E4"/><rect x="1332.02" y="244.30" width="4.2" height="7.40" fill="#EB3241"/><rect x="1337.72" y="217.10" width="4.2" height="34.60" fill="#26A69A"/><rect x="1338.42" y="217.90" width="2.80" height="33.00" fill="#2264E4"/><rect x="1343.41" y="217.60" width="4.2" height="2.20" fill="#EB3241"/><rect x="1349.10" y="147.80" width="4.2" height="72.40" fill="#26A69A"/><rect x="1349.80" y="148.60" width="2.80" height="70.80" fill="#2264E4"/><rect x="1354.79" y="147.80" width="4.2" height="20.00" fill="#EB3241"/><rect x="1360.49" y="167.80" width="4.2" height="58.20" fill="#EB3241"/><rect x="1366.18" y="189.20" width="4.2" height="36.80" fill="#26A69A"/><rect x="1366.88" y="190.00" width="2.80" height="35.20" fill="#2264E4"/><rect x="1371.87" y="176.10" width="4.2" height="13.10" fill="#26A69A"/><rect x="1372.57" y="176.90" width="2.80" height="11.50" fill="#2264E4"/><rect x="1377.57" y="176.10" width="4.2" height="13.10" fill="#EB3241"/><rect x="1383.26" y="189.50" width="4.2" height="9.00" fill="#EB3241"/><rect x="1388.95" y="198.60" width="4.2" height="13.00" fill="#EB3241"/><rect x="1394.65" y="211.70" width="4.2" height="41.00" fill="#EB3241"/><rect x="1400.34" y="253.10" width="4.2" height="1.00" fill="#EB3241"/><rect x="1406.03" y="206.50" width="4.2" height="47.30" fill="#26A69A"/><rect x="1406.73" y="207.30" width="2.80" height="45.70" fill="#2264E4"/><rect x="1411.72" y="206.50" width="4.2" height="11.50" fill="#EB3241"/><rect x="1417.42" y="218.40" width="4.2" height="29.30" fill="#EB3241"/><rect x="1423.11" y="247.70" width="4.2" height="59.20" fill="#EB3241"/><rect x="1428.80" y="266.40" width="4.2" height="40.00" fill="#26A69A"/><rect x="1429.50" y="267.20" width="2.80" height="38.40" fill="#2264E4"/>
<path d="M327 211H1523" stroke="#e8779f" stroke-width="1.35" fill="none"/>
<path d="M1271 104.8H1523" stroke="#e8779f" stroke-width="1.35" fill="none"/>
<path d="M440.4 211.8 C546.7 449.2 657.5 630.6 811 630.6 C984.6 630.6 1116.5 384.8 1186 210.3" stroke="#1f7259" stroke-width="1.75" fill="none"/>
<path d="M1072.7 265.8L1476.5 42.5" stroke="#a862b2" stroke-width="1.1" fill="none"/>
<path d="M1123.3 480.5L1510.9 297.1" stroke="#a862b2" stroke-width="1.1" fill="none"/>
</g>
</svg>
<div class="lg" style="top:31px;left:16.5px;letter-spacing:-0.35px">BNB · 1W · CRYPTO</div>
<div class="lg" style="top:31px;left:121.6px">O</div><div class="lg g" style="top:31px;left:130px">554.34</div>
<div class="lg" style="top:31px;left:172.3px">H</div><div class="lg g" style="top:31px;left:180.5px">622.82</div>
<div class="lg" style="top:31px;left:222.3px">L</div><div class="lg g" style="top:31px;left:228px">507.27</div>
<div class="lg" style="top:31px;left:267.6px">C</div><div class="lg g" style="top:31px;left:275.7px">601.72</div>
<div class="lg" style="top:46px;left:16.5px;letter-spacing:0.1px">EMA (50, close)</div><div class="lg" style="top:46px;left:103px">579.73</div>
<div class="lg" style="top:61px;left:16.5px;letter-spacing:0.1px">EMA (100, close)</div><div class="lg bl" style="top:61px;left:108px">498.94</div>
<div class="pl" style="top:49.4px">850.00</div><div class="pl" style="top:91.5px">800.00</div><div class="pl" style="top:133.6px">750.00</div><div class="pl" style="top:175.7px">700.00</div><div class="pl" style="top:217.8px">650.00</div><div class="pl" style="top:259.9px">600.00</div><div class="pl" style="top:302.0px">550.00</div><div class="pl" style="top:344.1px">500.00</div><div class="pl" style="top:386.2px">450.00</div><div class="pl" style="top:428.3px">400.00</div><div class="pl" style="top:470.4px">350.00</div><div class="pl" style="top:512.5px">300.00</div><div class="pl" style="top:554.6px">250.00</div><div class="pl" style="top:596.7px">200.00</div><div class="pl" style="top:638.8px">150.00</div><div class="pl" style="top:680.9px">100.00</div><div class="pl" style="top:723.0px">50.00</div><div class="pl" style="top:765.1px">0.00</div><div class="pl" style="top:807.2px">−50.00</div>

<div class="tag" style="top:94.3px">793.46</div>
<div class="tag" style="top:200.8px">666.93</div>

<div style="position:absolute;left:1524px;top:26px;width:65px;height:28px;background:#fff"></div><div class="usd">USD</div>
<div class="tl" style="left:2.0px">Jul</div><div class="tl b" style="left:149.5px">2021</div><div class="tl" style="left:298.0px">Jul</div><div class="tl b" style="left:446.0px">2022</div><div class="tl" style="left:594.0px">Jul</div><div class="tl b" style="left:742.0px">2023</div><div class="tl" style="left:890.0px">Jul</div><div class="tl b" style="left:1038.0px">2024</div><div class="tl" style="left:1186.0px">Jul</div><div class="tl b" style="left:1340.0px">2025</div>
<svg style="position:absolute;left:9px;top:867px" width="17.3" height="13.4" viewBox="0 0 36 28"><path d="M14 22H7V11H0V4h14v18zM28 22h-8l7.5-18h8L28 22z" fill="#111"/><circle cx="20" cy="8" r="4" fill="#111"/></svg>
<div class="ft">TradingView</div>
</body></html>
